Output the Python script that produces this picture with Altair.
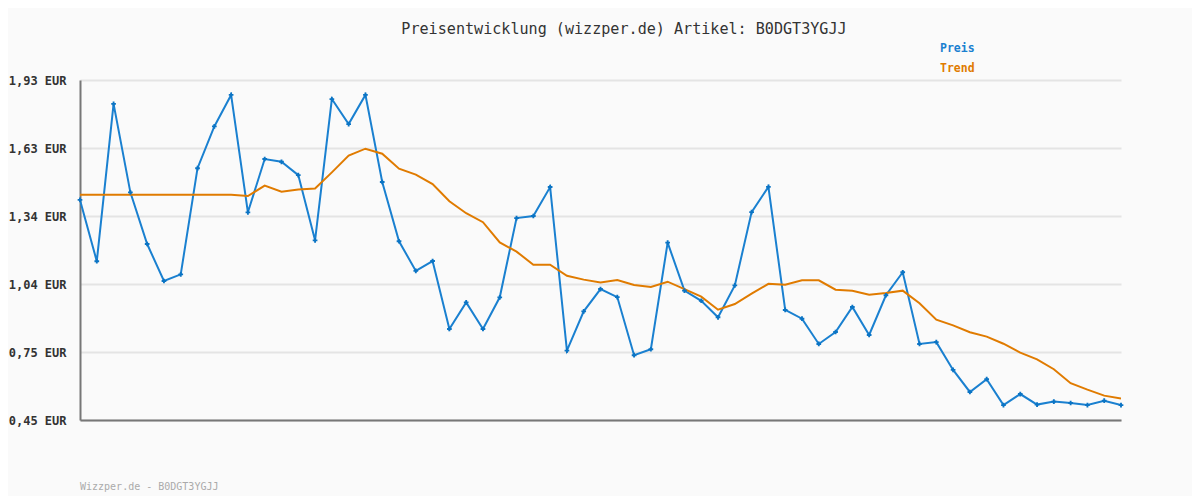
import altair as alt
import pandas as pd

preis = [1.408, 1.141, 1.826, 1.441, 1.216, 1.055, 1.084, 1.546, 1.728, 1.865,
         1.354, 1.586, 1.574, 1.516, 1.232, 1.847, 1.738, 1.865, 1.486, 1.228,
         1.099, 1.142, 0.846, 0.962, 0.846, 0.984, 1.329, 1.338, 1.464, 0.752,
         0.923, 1.020, 0.985, 0.732, 0.758, 1.222, 1.013, 0.969, 0.897, 1.036,
         1.355, 1.465, 0.929, 0.891, 0.781, 0.833, 0.942, 0.820, 0.993, 1.093,
         0.781, 0.789, 0.668, 0.572, 0.628, 0.515, 0.563, 0.517, 0.530, 0.524,
         0.515, 0.534, 0.515]
trend = [1.431, 1.431, 1.431, 1.431, 1.431, 1.431, 1.431, 1.431, 1.431, 1.431,
         1.425, 1.470, 1.444, 1.453, 1.458, 1.528, 1.601, 1.631, 1.609, 1.544,
         1.518, 1.477, 1.402, 1.350, 1.311, 1.223, 1.183, 1.126, 1.126, 1.078,
         1.061, 1.049, 1.059, 1.038, 1.029, 1.052, 1.020, 0.987, 0.930, 0.955,
         1.000, 1.043, 1.039, 1.058, 1.058, 1.017, 1.013, 0.995, 1.003, 1.013,
         0.958, 0.887, 0.862, 0.832, 0.813, 0.782, 0.743, 0.714, 0.671, 0.610,
         0.582, 0.556, 0.543]
y_ticks = [0.45, 0.746, 1.042, 1.338, 1.634, 1.93]
series_names = ["Preis", "Trend"]
series_colors = ["#1a80d0", "#e07b00"]
title_text = "Preisentwicklung (wizzper.de) Artikel: B0DGT3YGJJ"
footer_text = "Wizzper.de - B0DGT3YGJJ"

n = len(preis)
df = pd.DataFrame({
    "i": list(range(n)) * 2,
    "wert": preis + trend,
    "serie": ["Preis"] * n + ["Trend"] * n,
})

W, H = 1041, 340
FONT = "DejaVu Sans Mono"

xs = alt.X("i:Q", scale=alt.Scale(domain=[0, n - 1], nice=False, zero=False),
           axis=alt.Axis(title=None, labels=False, ticks=False, grid=False,
                         domain=True, domainColor="#777777", domainWidth=2))
ys = alt.Y("wert:Q", scale=alt.Scale(domain=[y_ticks[0], y_ticks[-1]], nice=False, zero=False),
           axis=alt.Axis(title=None, values=y_ticks, grid=True, gridColor="#e4e4e4", gridWidth=2,
                         ticks=False, domain=True, domainColor="#777777", domainWidth=2,
                         labelExpr="replace(format(datum.value, '.2f'), '.', ',') + ' EUR'",
                         labelFont=FONT, labelFontSize=12, labelFontWeight="bold",
                         labelColor="#333333", labelPadding=14))
color = alt.Color("serie:N", scale=alt.Scale(domain=series_names, range=series_colors), legend=None)

base = alt.Chart(df)
lines = base.mark_line(strokeWidth=2, clip=True).encode(x=xs, y=ys, color=color)
points = base.transform_filter(alt.datum.serie == "Preis").mark_point(
    shape="cross", size=22, filled=True, opacity=1, color="#0b74c4").encode(x="i:Q", y="wert:Q")

leg_df = pd.DataFrame({"serie": series_names})
legend_layers = []
for k, name in enumerate(series_names):
    legend_layers.append(
        alt.Chart(leg_df).transform_filter(alt.datum.serie == name).mark_text(
            font=FONT, fontSize=11.5, fontWeight="bold", align="left", baseline="middle").encode(
            x=alt.value(860), y=alt.value(-31 + 20 * k), text="serie:N", color=color)
    )

title = alt.Chart(pd.DataFrame({"t": [title_text]})).mark_text(
    font=FONT, fontSize=15.1, color="#333333", align="center", baseline="middle").encode(
    x=alt.value(544), y=alt.value(-51), text="t:N")
footer = alt.Chart(pd.DataFrame({"t": [footer_text]})).mark_text(
    font=FONT, fontSize=10, color="#aaaaaa", align="left", baseline="middle").encode(
    x=alt.value(0), y=alt.value(407), text="t:N")

chart = alt.layer(lines, points, *legend_layers, title, footer).properties(
    width=W, height=H,
    autosize=alt.AutoSizeParams(type="none"),
    padding={"left": 72, "top": 72, "right": 71, "bottom": 76},
    background="#fafafa",
).configure_view(stroke=None)

chart.save("out.html", embed_options={"renderer": "svg", "actions": False})
